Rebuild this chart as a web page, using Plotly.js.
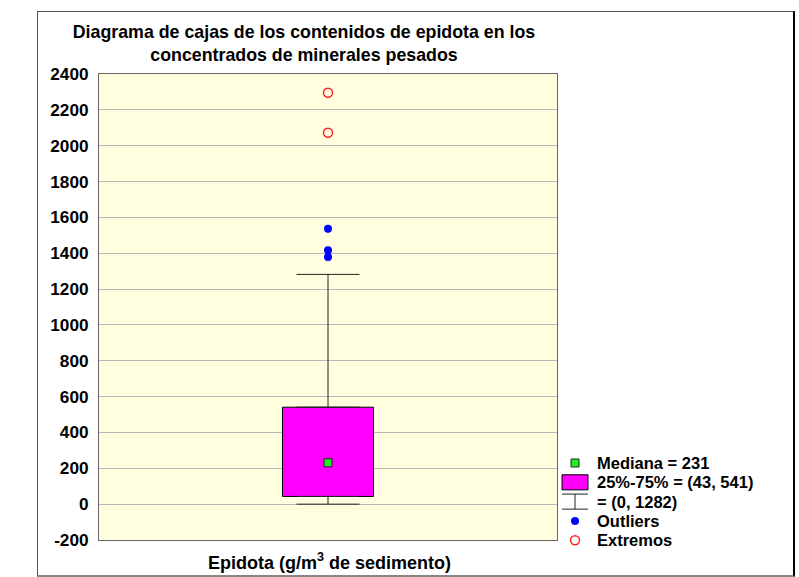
<!DOCTYPE html>
<html>
<head>
<meta charset="utf-8">
<script src="https://cdn.plot.ly/plotly-3.0.1.min.js"></script>
<style>
  html, body { margin: 0; padding: 0; background: #ffffff; }
  #wrap { position: relative; width: 799px; height: 577px; }
  #chart { position: absolute; left: 0; top: 0; width: 799px; height: 577px; }
  #frame { position: absolute; left: 37px; top: 11px; width: 755px; height: 563px;
           border-top: 1px solid #555; border-left: 1px solid #555;
           border-right: 2px solid #000; border-bottom: 2px solid #888; pointer-events: none; }
</style>
</head>
<body>
<div id="wrap">
  <div id="chart"></div>
  <div id="frame"></div>
</div>
<script>
// ---- data ----
const categories = ['Epidota'];
const q1 = [43];
const median = [231];
const q3 = [541];
const lowerWhisker = [0];
const upperWhisker = [1282];
const outliers = [1536, 1416, 1379];
const extremes = [2295, 2072];
const legendLabels = ['Mediana = 231', '25%-75% = (43, 541)', '= (0, 1282)', 'Outliers', 'Extremos'];
const yTickVals = [-200, 0, 200, 400, 600, 800, 1000, 1200, 1400, 1600, 1800, 2000, 2200, 2400];

// ---- layout helpers (pixel geometry) ----
const W = 799, H = 577;
const M = { l: 99, r: 6, t: 74, b: 20 };
const PW = W - M.l - M.r, PH = H - M.t - M.b;
const px2x = px => (px - M.l) / PW;
const px2y = py => (H - M.b - py) / PH;

const FONT = 'Liberation Sans, Arial, Helvetica, sans-serif';
const GREEN = '#22ee22', MAGENTA = '#ff00ff', BLUE = '#0000ff', RED = '#ff2020';

// legend row geometry (in y2 units = row index)
const rowPx0 = 463, rowStep = 19.3;
const y2Range = [(H - M.b - rowPx0) / rowStep, (M.t - rowPx0) / rowStep];
const legendRows = legendLabels.map((_, i) => i);

const traces = [
  // box (interquartile range)
  { type: 'bar', x: categories, base: q1, y: q3.map((v, i) => v - q1[i]), width: 0.1987,
    marker: { color: MAGENTA, line: { color: '#000', width: 1 } }, hoverinfo: 'skip', showlegend: false },
  // upper whisker
  { type: 'scatter', mode: 'markers', x: categories, y: q3,
    marker: { size: 1, opacity: 0 },
    error_y: { type: 'data', symmetric: false, array: upperWhisker.map((v, i) => v - q3[i]), arrayminus: [0],
               width: 31.5, thickness: 1, color: '#222' }, showlegend: false, hoverinfo: 'skip' },
  // lower whisker
  { type: 'scatter', mode: 'markers', x: categories, y: q1,
    marker: { size: 1, opacity: 0 },
    error_y: { type: 'data', symmetric: false, array: [0], arrayminus: q1.map((v, i) => v - lowerWhisker[i]),
               width: 31.5, thickness: 1, color: '#222' }, showlegend: false, hoverinfo: 'skip' },
  // median
  { type: 'scatter', mode: 'markers', x: categories, y: median,
    marker: { symbol: 'square', size: 8, color: GREEN, line: { color: '#222', width: 1 } }, showlegend: false },
  // outliers
  { type: 'scatter', mode: 'markers', x: outliers.map(() => categories[0]), y: outliers,
    marker: { symbol: 'circle', size: 8, color: BLUE }, showlegend: false },
  // extremes
  { type: 'scatter', mode: 'markers', x: extremes.map(() => categories[0]), y: extremes,
    marker: { symbol: 'circle-open', size: 9, color: RED, line: { width: 1.5 } }, showlegend: false },

  // ---- legend keys (helper axes x2/y2) ----
  { type: 'scatter', mode: 'markers', x: [0], y: [legendRows[0]], xaxis: 'x2', yaxis: 'y2',
    marker: { symbol: 'square', size: 8, color: GREEN, line: { color: '#222', width: 1 } }, showlegend: false, hoverinfo: 'skip', cliponaxis: false },
  { type: 'bar', x: [0], base: [legendRows[1] - 0.39], y: [0.78], width: 1.73, xaxis: 'x2', yaxis: 'y2',
    marker: { color: MAGENTA, line: { color: '#000', width: 1 } }, showlegend: false, hoverinfo: 'skip' },
  { type: 'scatter', mode: 'markers', x: [0], y: [legendRows[2]], xaxis: 'x2', yaxis: 'y2',
    marker: { size: 1, opacity: 0 },
    error_y: { type: 'constant', value: 0.39, width: 13, thickness: 1, color: '#222' }, showlegend: false, hoverinfo: 'skip' },
  { type: 'scatter', mode: 'markers', x: [0], y: [legendRows[3]], xaxis: 'x2', yaxis: 'y2',
    marker: { symbol: 'circle', size: 8, color: BLUE }, showlegend: false, hoverinfo: 'skip', cliponaxis: false },
  { type: 'scatter', mode: 'markers', x: [0], y: [legendRows[4]], xaxis: 'x2', yaxis: 'y2',
    marker: { symbol: 'circle-open', size: 9, color: RED, line: { width: 1.5 } }, showlegend: false, hoverinfo: 'skip', cliponaxis: false }
];

const annotations = legendLabels.map((t, i) => ({
  xref: 'paper', yref: 'y2', x: px2x(595), y: legendRows[i], text: t, showarrow: false,
  xanchor: 'left', yanchor: 'middle', font: { family: FONT, size: 16.5, weight: 'bold', color: '#000' }
}));
// x-axis label
annotations.push({
  xref: 'paper', yref: 'paper', x: px2x(329), y: px2y(561), text: 'Epidota (g/m<sup>3</sup> de sedimento)',
  showarrow: false, xanchor: 'center', yanchor: 'middle', font: { family: FONT, size: 18, weight: 'bold', color: '#000' }
});

const layout = {
  width: W, height: H,
  margin: M,
  paper_bgcolor: 'rgba(0,0,0,0)',
  plot_bgcolor: 'rgba(0,0,0,0)',
  showlegend: false,
  title: {
    text: 'Diagrama de cajas de los contenidos de epidota en los<br>concentrados de minerales pesados',
    x: 304 / W, xanchor: 'center', xref: 'container',
    y: 1 - 38 / H, yanchor: 'middle', yref: 'container',
    font: { family: FONT, size: 17.8, weight: 'bold', color: '#000' }
  },
  shapes: [
    { type: 'rect', xref: 'x domain', yref: 'y domain', x0: 0, x1: 1, y0: 0, y1: 1,
      fillcolor: '#ffffe0', line: { width: 0 }, layer: 'below' }
  ],
  xaxis: {
    domain: [0, px2x(557)], type: 'category', range: [-0.5, 0.5],
    showticklabels: false, ticks: '', showgrid: false, zeroline: false,
    showline: true, linecolor: '#666', linewidth: 1, mirror: true, fixedrange: true
  },
  yaxis: {
    domain: [px2y(540), 1], range: [-200, 2400], tickvals: yTickVals, ticktext: yTickVals.map(String),
    ticks: '', ticklabelstandoff: 6, showgrid: true, gridcolor: '#b8b8b8', gridwidth: 1, zeroline: false,
    showline: true, linecolor: '#666', linewidth: 1, mirror: true,
    tickfont: { family: FONT, size: 17.2, weight: 'bold', color: '#000' }, fixedrange: true
  },
  xaxis2: {
    domain: [px2x(560), px2x(590)], range: [-1, 1], anchor: 'y2', visible: false, fixedrange: true
  },
  yaxis2: {
    domain: [0, 1], range: y2Range, anchor: 'x2', visible: false, fixedrange: true
  },
  annotations: annotations
};

Plotly.newPlot('chart', traces, layout, { displayModeBar: false, staticPlot: true });
</script>
</body>
</html>
